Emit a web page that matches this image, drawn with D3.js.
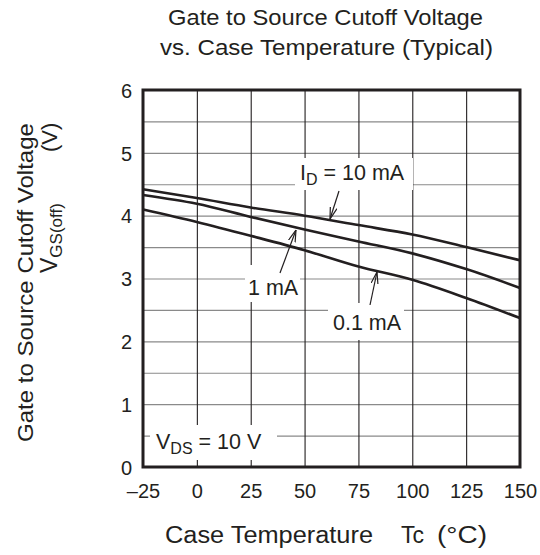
<!DOCTYPE html>
<html>
<head>
<meta charset="utf-8">
<script src="https://cdn.jsdelivr.net/npm/d3@7"></script>
<style>
  body { margin: 0; background: #fff; }
  svg text { font-family: "Liberation Sans", Arial, Helvetica, sans-serif; fill: #231f20; }
</style>
</head>
<body>
<svg id="chart" width="540" height="555"></svg>
<script>
// ---- data ----
const temps = [-25, 0, 25, 50, 75, 100, 125, 150];
const id10mA = [4.42, 4.28, 4.13, 4.00, 3.85, 3.70, 3.50, 3.29];
const id1mA = [4.33, 4.19, 3.98, 3.78, 3.59, 3.40, 3.15, 2.85];
const id01mA = [4.10, 3.90, 3.68, 3.45, 3.19, 2.98, 2.69, 2.37];
const xTicks = [-25, 0, 25, 50, 75, 100, 125, 150];
const xTickLabels = ["–25", "0", "25", "50", "75", "100", "125", "150"];
const yTicks = [0, 1, 2, 3, 4, 5, 6];
const yGrid = [0.5, 1, 1.5, 2, 2.5, 3, 3.5, 4, 4.5, 5, 5.5];

const svg = d3.select("#chart");
const m = { left: 143, top: 90, right: 20, bottom: 88 };
const W = 540 - m.left - m.right, H = 555 - m.top - m.bottom;
const g = svg.append("g").attr("transform", `translate(${m.left},${m.top})`);

const x = d3.scaleLinear().domain([-25, 150]).range([0, W]);
const y = d3.scaleLinear().domain([0, 6]).range([H, 0]);

// grid
const hg = g.append("g").call(d3.axisLeft(y).tickValues(yGrid).tickSize(-W).tickFormat(""));
hg.select(".domain").remove();
hg.selectAll("line").attr("stroke", "#8a8a8a").attr("stroke-width", 1.2);
const vg = g.append("g").attr("transform", `translate(0,${H})`)
  .call(d3.axisBottom(x).tickValues(xTicks.slice(1, -1)).tickSize(-H).tickFormat(""));
vg.select(".domain").remove();
vg.selectAll("line").attr("stroke", "#231f20").attr("stroke-width", 1.1);

// axes tick labels
const ya = g.append("g").call(d3.axisLeft(y).tickValues(yTicks).tickSize(0).tickPadding(11).tickFormat(d3.format("d")));
ya.select(".domain").remove();
ya.selectAll("text").attr("font-size", 20).attr("dy", "0.36em");
const xa = g.append("g").attr("transform", `translate(0,${H})`)
  .call(d3.axisBottom(x).tickValues(xTicks).tickSize(0).tickPadding(17).tickFormat((d, i) => xTickLabels[i]));
xa.select(".domain").remove();
xa.selectAll("text").attr("font-size", 20);

// label boxes (white) over grid
function box(x0, y0, w, h) {
  svg.append("rect").attr("x", x0).attr("y", y0).attr("width", w).attr("height", h).attr("fill", "#fff");
}
box(295, 158, 118, 32);
box(245, 265, 55, 37);
box(328, 303, 76, 37);
box(150, 425, 127, 35);

// curves
const line = d3.line().x((d, i) => x(temps[i])).y(d => y(d)).curve(d3.curveMonotoneX);
[id10mA, id1mA, id01mA].forEach(s => {
  g.append("path").datum(s).attr("d", line).attr("fill", "none")
    .attr("stroke", "#231f20").attr("stroke-width", 2.6);
});

// frame
g.append("rect").attr("width", W).attr("height", H).attr("fill", "none")
  .attr("stroke", "#231f20").attr("stroke-width", 3);

// arrows
svg.append("defs").append("marker").attr("id", "ah").attr("viewBox", "0 0 12 8")
  .attr("refX", 12).attr("refY", 4).attr("markerWidth", 12).attr("markerHeight", 8)
  .attr("markerUnits", "userSpaceOnUse").attr("orient", "auto")
  .append("path").attr("d", "M0,0.5 L12,4 L0,7.5").attr("fill", "none").attr("stroke", "#231f20").attr("stroke-width", 1.2);
function arrow(x1, y1, x2, y2) {
  svg.append("line").attr("x1", x1).attr("y1", y1).attr("x2", x2).attr("y2", y2)
    .attr("stroke", "#231f20").attr("stroke-width", 1.2).attr("marker-end", "url(#ah)");
}
arrow(339, 191, 330, 219);
arrow(280, 273, 296, 230);
arrow(370, 305, 377, 272);

// labels
function subLabel(px, py, main, sub, rest) {
  const t = svg.append("text").attr("x", px).attr("y", py).attr("font-size", 21.5);
  t.append("tspan").text(main);
  t.append("tspan").attr("dy", 5).attr("font-size", 16).text(sub);
  t.append("tspan").attr("dy", -5).text(rest);
}
subLabel(300, 180, "I", "D", " = 10 mA");
svg.append("text").attr("x", 248).attr("y", 295).attr("font-size", 21.5).text("1 mA");
svg.append("text").attr("x", 333).attr("y", 330).attr("font-size", 21.5).text("0.1 mA");
subLabel(156, 449, "V", "DS", " = 10 V");

// titles
svg.append("text").attr("x", 168).attr("y", 25).attr("font-size", 22)
  .attr("textLength", 315).attr("lengthAdjust", "spacingAndGlyphs")
  .text("Gate to Source Cutoff Voltage");
svg.append("text").attr("x", 160).attr("y", 55).attr("font-size", 22)
  .attr("textLength", 333).attr("lengthAdjust", "spacingAndGlyphs")
  .text("vs. Case Temperature (Typical)");

// x axis title
svg.append("text").attr("x", 165).attr("y", 543).attr("font-size", 23)
  .attr("textLength", 208).attr("lengthAdjust", "spacingAndGlyphs").text("Case Temperature");
svg.append("text").attr("x", 401).attr("y", 543).attr("font-size", 23).text("Tc");
svg.append("text").attr("x", 437).attr("y", 543).attr("font-size", 23)
  .attr("textLength", 50).attr("lengthAdjust", "spacingAndGlyphs").text("(°C)");

// y axis title
svg.append("text").attr("transform", "translate(33,442) rotate(-90)")
  .attr("font-size", 22.5).attr("textLength", 319).attr("lengthAdjust", "spacingAndGlyphs")
  .text("Gate to Source Cutoff Voltage");
const yt2 = svg.append("text").attr("transform", "translate(57,273) rotate(-90)").attr("font-size", 23);
yt2.append("tspan").text("V");
yt2.append("tspan").attr("dy", 5).attr("font-size", 17).text("GS(off)");
svg.append("text").attr("transform", "translate(57,152) rotate(-90)").attr("font-size", 22).text("(V)");
</script>
</body>
</html>
